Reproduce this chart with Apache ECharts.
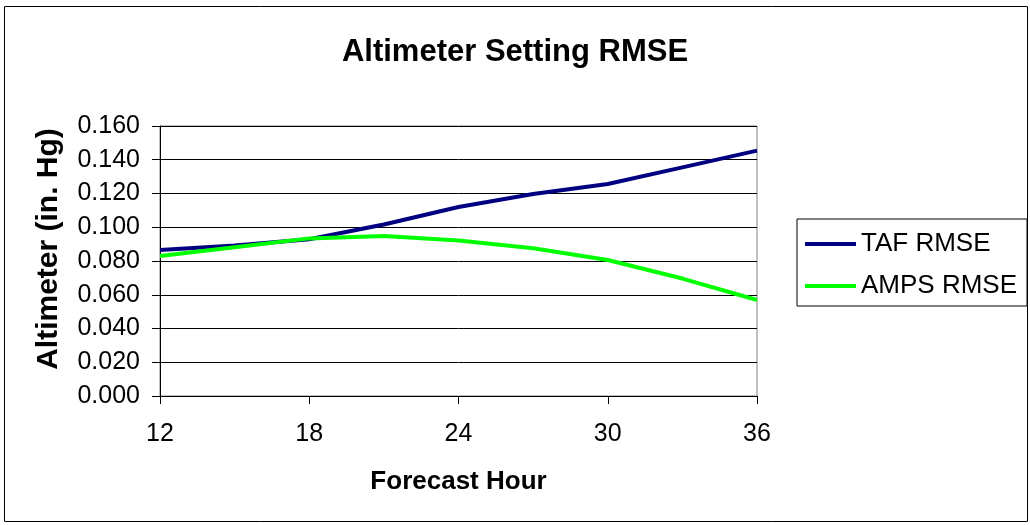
<!DOCTYPE html>
<html>
<head>
<meta charset="utf-8">
<script src="https://cdn.jsdelivr.net/npm/echarts@6/dist/echarts.min.js"></script>
<style>
  html, body { margin: 0; padding: 0; background: #ffffff; }
  #chart { width: 1030px; height: 525px; }
</style>
</head>
<body>
<div id="chart"></div>
<script>
// Forecast hours (category axis) and RMSE of altimeter setting, inches of mercury
const hours = ['12', '15', '18', '21', '24', '27', '30', '33', '36'];
const tafRmse = [0.0865, 0.0892, 0.0929, 0.1016, 0.1120, 0.1197, 0.1256, 0.1355, 0.1454];
const ampsRmse = [0.0830, 0.0882, 0.0934, 0.0948, 0.0922, 0.0875, 0.0806, 0.0696, 0.0569];
const seriesNames = ['TAF RMSE', 'AMPS RMSE'];
const seriesColors = ['#000080', '#00ff00'];

const FONT = "'Liberation Sans', Arial, sans-serif";

const chart = echarts.init(document.getElementById('chart'), null, { renderer: 'canvas' });

chart.setOption({
  animation: false,
  backgroundColor: '#ffffff',
  title: {
    text: 'Altimeter Setting RMSE',
    left: 'center',
    top: 32,
    textStyle: { fontFamily: FONT, fontSize: 31, fontWeight: 'bold', color: '#000000' }
  },
  legend: {
    orient: 'vertical',
    left: 797,
    top: 219,
    padding: [12, 10, 7, 8],
    itemGap: 16,
    itemWidth: 51,
    itemHeight: 4,
    itemTextGap: 6,
    icon: 'rect',
    borderColor: '#000000',
    borderWidth: 1,
    data: seriesNames,
    textStyle: { fontFamily: FONT, fontSize: 26, color: '#000000' }
  },
  grid: {
    left: 160,
    top: 126,
    width: 597,
    height: 270,
    show: true,
    borderColor: '#808080',
    borderWidth: 1,
    backgroundColor: '#ffffff'
  },
  xAxis: {
    type: 'category',
    data: hours,
    boundaryGap: false,
    name: 'Forecast Hour',
    nameLocation: 'middle',
    nameGap: 73,
    nameTextStyle: { fontFamily: FONT, fontSize: 26, fontWeight: 'bold', color: '#000000' },
    axisLine: { lineStyle: { color: '#000000', width: 1 } },
    axisTick: { show: true, inside: false, length: 8, interval: 1, lineStyle: { color: '#000000' } },
    axisLabel: { interval: 1, margin: 26, fontFamily: FONT, fontSize: 25, color: '#000000' },
    splitLine: { show: false }
  },
  yAxis: {
    type: 'value',
    min: 0,
    max: 0.16,
    interval: 0.02,
    axisLine: { show: true, lineStyle: { color: '#000000', width: 1 } },
    axisTick: { show: true, inside: false, length: 8, lineStyle: { color: '#000000' } },
    axisLabel: {
      margin: 20,
      fontFamily: FONT,
      fontSize: 25,
      color: '#000000',
      formatter: function (v) { return v.toFixed(3); }
    },
    splitLine: { show: true, lineStyle: { color: '#000000', width: 1 } }
  },
  graphic: [
    {
      type: 'rect',
      silent: true,
      shape: { x: 4.5, y: 6.5, width: 1023, height: 515 },
      style: { fill: 'none', stroke: '#000000', lineWidth: 1 }
    },
    {
      type: 'text',
      silent: true,
      x: 49,
      y: 249,
      rotation: Math.PI / 2,
      style: {
        text: 'Altimeter (in. Hg)',
        fontFamily: FONT,
        fontSize: 30,
        fontWeight: 'bold',
        fill: '#000000',
        textAlign: 'center',
        textVerticalAlign: 'middle'
      }
    }
  ],
  series: [
    {
      name: seriesNames[0],
      type: 'line',
      data: tafRmse,
      symbol: 'none',
      smooth: false,
      color: seriesColors[0],
      lineStyle: { color: seriesColors[0], width: 4 }
    },
    {
      name: seriesNames[1],
      type: 'line',
      data: ampsRmse,
      symbol: 'none',
      smooth: false,
      color: seriesColors[1],
      lineStyle: { color: seriesColors[1], width: 4 }
    }
  ]
});
</script>
</body>
</html>
